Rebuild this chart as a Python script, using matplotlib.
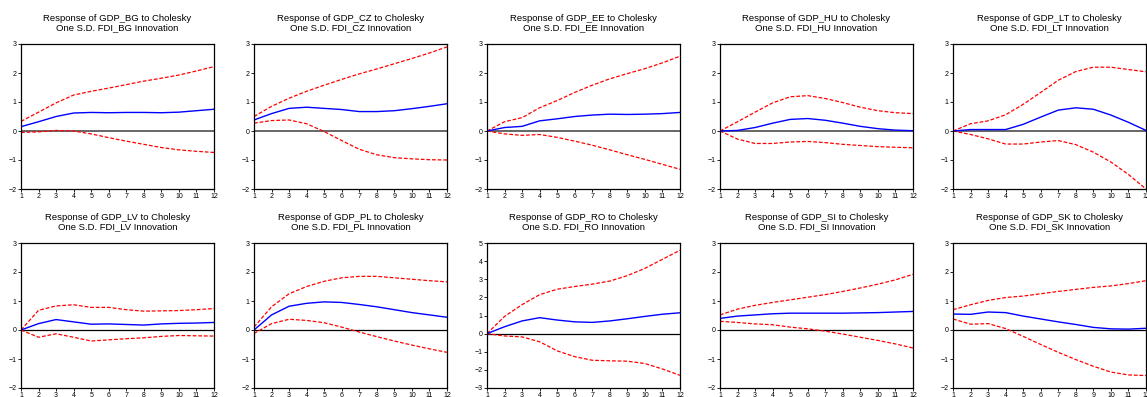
import numpy as np
import matplotlib
matplotlib.use("Agg")
import matplotlib.pyplot as plt

plt.rcParams['font.family'] = ['Liberation Sans', 'DejaVu Sans']

horizon = np.arange(1, 13)
countries = ["BG", "CZ", "EE", "HU", "LT", "LV", "PL", "RO", "SI", "SK"]

# reponse (ligne bleue) et bandes +/- 2 S.E. (rouge pointille)
resp = {
    "BG": [0.15, 0.32, 0.50, 0.62, 0.64, 0.63, 0.64, 0.64, 0.63, 0.65, 0.70, 0.75],
    "CZ": [0.38, 0.60, 0.78, 0.82, 0.78, 0.74, 0.67, 0.67, 0.70, 0.77, 0.85, 0.94],
    "EE": [0.00, 0.12, 0.16, 0.35, 0.42, 0.50, 0.55, 0.58, 0.57, 0.58, 0.60, 0.64],
    "HU": [0.00, 0.02, 0.12, 0.27, 0.40, 0.43, 0.37, 0.27, 0.16, 0.08, 0.03, 0.01],
    "LT": [0.00, 0.05, 0.05, 0.05, 0.23, 0.48, 0.72, 0.80, 0.75, 0.55, 0.30, 0.02],
    "LV": [0.00, 0.22, 0.36, 0.28, 0.20, 0.21, 0.19, 0.17, 0.21, 0.23, 0.24, 0.26],
    "PL": [0.00, 0.52, 0.82, 0.92, 0.97, 0.95, 0.88, 0.80, 0.70, 0.60, 0.52, 0.44],
    "RO": [0.00, 0.38, 0.70, 0.88, 0.75, 0.65, 0.62, 0.70, 0.82, 0.95, 1.07, 1.15],
    "SI": [0.40, 0.48, 0.52, 0.56, 0.58, 0.58, 0.58, 0.58, 0.59, 0.60, 0.62, 0.64],
    "SK": [0.55, 0.54, 0.62, 0.60, 0.48, 0.38, 0.28, 0.19, 0.09, 0.04, 0.03, 0.06],
}
upper = {
    "BG": [0.33, 0.65, 0.97, 1.24, 1.37, 1.48, 1.60, 1.72, 1.82, 1.93, 2.07, 2.22],
    "CZ": [0.50, 0.85, 1.13, 1.37, 1.58, 1.78, 1.97, 2.14, 2.32, 2.50, 2.69, 2.90],
    "EE": [0.00, 0.32, 0.46, 0.80, 1.05, 1.33, 1.58, 1.80, 1.98, 2.15, 2.35, 2.58],
    "HU": [0.00, 0.32, 0.65, 0.97, 1.18, 1.22, 1.12, 0.98, 0.82, 0.70, 0.63, 0.60],
    "LT": [0.00, 0.25, 0.35, 0.56, 0.92, 1.33, 1.75, 2.05, 2.20, 2.20, 2.12, 2.04],
    "LV": [0.00, 0.68, 0.83, 0.87, 0.78, 0.78, 0.70, 0.65, 0.66, 0.67, 0.70, 0.74],
    "PL": [0.10, 0.80, 1.25, 1.50, 1.68, 1.80, 1.85, 1.85, 1.80, 1.75, 1.70, 1.66],
    "RO": [0.00, 0.95, 1.60, 2.15, 2.45, 2.60, 2.73, 2.90, 3.20, 3.60, 4.10, 4.60],
    "SI": [0.52, 0.72, 0.85, 0.95, 1.04, 1.13, 1.22, 1.33, 1.45, 1.58, 1.73, 1.92],
    "SK": [0.70, 0.87, 1.02, 1.12, 1.17, 1.25, 1.33, 1.40, 1.47, 1.52, 1.60, 1.70],
}
lower = {
    "BG": [-0.05, -0.03, 0.02, 0.00, -0.10, -0.23, -0.35, -0.46, -0.57, -0.65, -0.70, -0.74],
    "CZ": [0.27, 0.36, 0.38, 0.25, -0.02, -0.33, -0.63, -0.82, -0.92, -0.96, -0.99, -1.00],
    "EE": [0.00, -0.10, -0.15, -0.12, -0.22, -0.35, -0.49, -0.65, -0.82, -0.98, -1.15, -1.32],
    "HU": [0.00, -0.28, -0.43, -0.43, -0.38, -0.36, -0.40, -0.46, -0.50, -0.54, -0.56, -0.58],
    "LT": [0.00, -0.12, -0.27, -0.45, -0.45, -0.38, -0.33, -0.47, -0.73, -1.07, -1.50, -2.00],
    "LV": [0.00, -0.25, -0.13, -0.25, -0.38, -0.34, -0.30, -0.27, -0.22, -0.19, -0.20, -0.21],
    "PL": [-0.12, 0.22, 0.37, 0.33, 0.25, 0.10, -0.07, -0.23, -0.38, -0.52, -0.65, -0.77],
    "RO": [0.00, -0.13, -0.18, -0.45, -0.95, -1.27, -1.47, -1.50, -1.52, -1.65, -1.95, -2.30],
    "SI": [0.30, 0.26, 0.21, 0.18, 0.10, 0.04, -0.04, -0.14, -0.25, -0.36, -0.48, -0.62],
    "SK": [0.38, 0.20, 0.22, 0.05, -0.22, -0.50, -0.77, -1.02, -1.25, -1.45, -1.55, -1.57],
}
ylims = {c: (-2, 3) for c in countries}
ylims["RO"] = (-3, 5)

W, H = 1147, 397
fig = plt.figure(figsize=(W / 100, H / 100), dpi=100)

lefts = [21, 254, 487, 720, 953]
tops = [44, 243]
aw, ah = 193, 145

for i, c in enumerate(countries):
    row, col = divmod(i, 5)
    x0 = lefts[col]
    y0 = tops[row]
    ax = fig.add_axes([x0 / W, 1 - (y0 + ah) / H, aw / W, ah / H])

    # ligne zero
    if row == 0:
        ax.axhline(0, color='#666666', lw=1.4, zorder=1)
    else:
        ax.axhline(0, color='black', lw=0.9, zorder=1)
    ax.plot(horizon, upper[c], color='red', lw=0.9, ls=(0, (3, 1.5)))
    ax.plot(horizon, lower[c], color='red', lw=0.9, ls=(0, (3, 1.5)))
    ax.plot(horizon, resp[c], color='blue', lw=1.0)

    ax.set_xlim(1, 12)
    lo, hi = ylims[c]
    ax.set_ylim(lo, hi)
    ax.set_xticks(horizon)
    ax.set_yticks(range(lo, hi + 1))
    ax.tick_params(labelsize=5, length=2, width=0.6, pad=1)
    for s in ax.spines.values():
        s.set_linewidth(0.9)

    ax.set_title("Response of GDP_%s to Cholesky\nOne S.D. FDI_%s Innovation" % (c, c),
                 fontsize=6.8, linespacing=1.05, pad=10)

fig.savefig("out.png", dpi=100)
